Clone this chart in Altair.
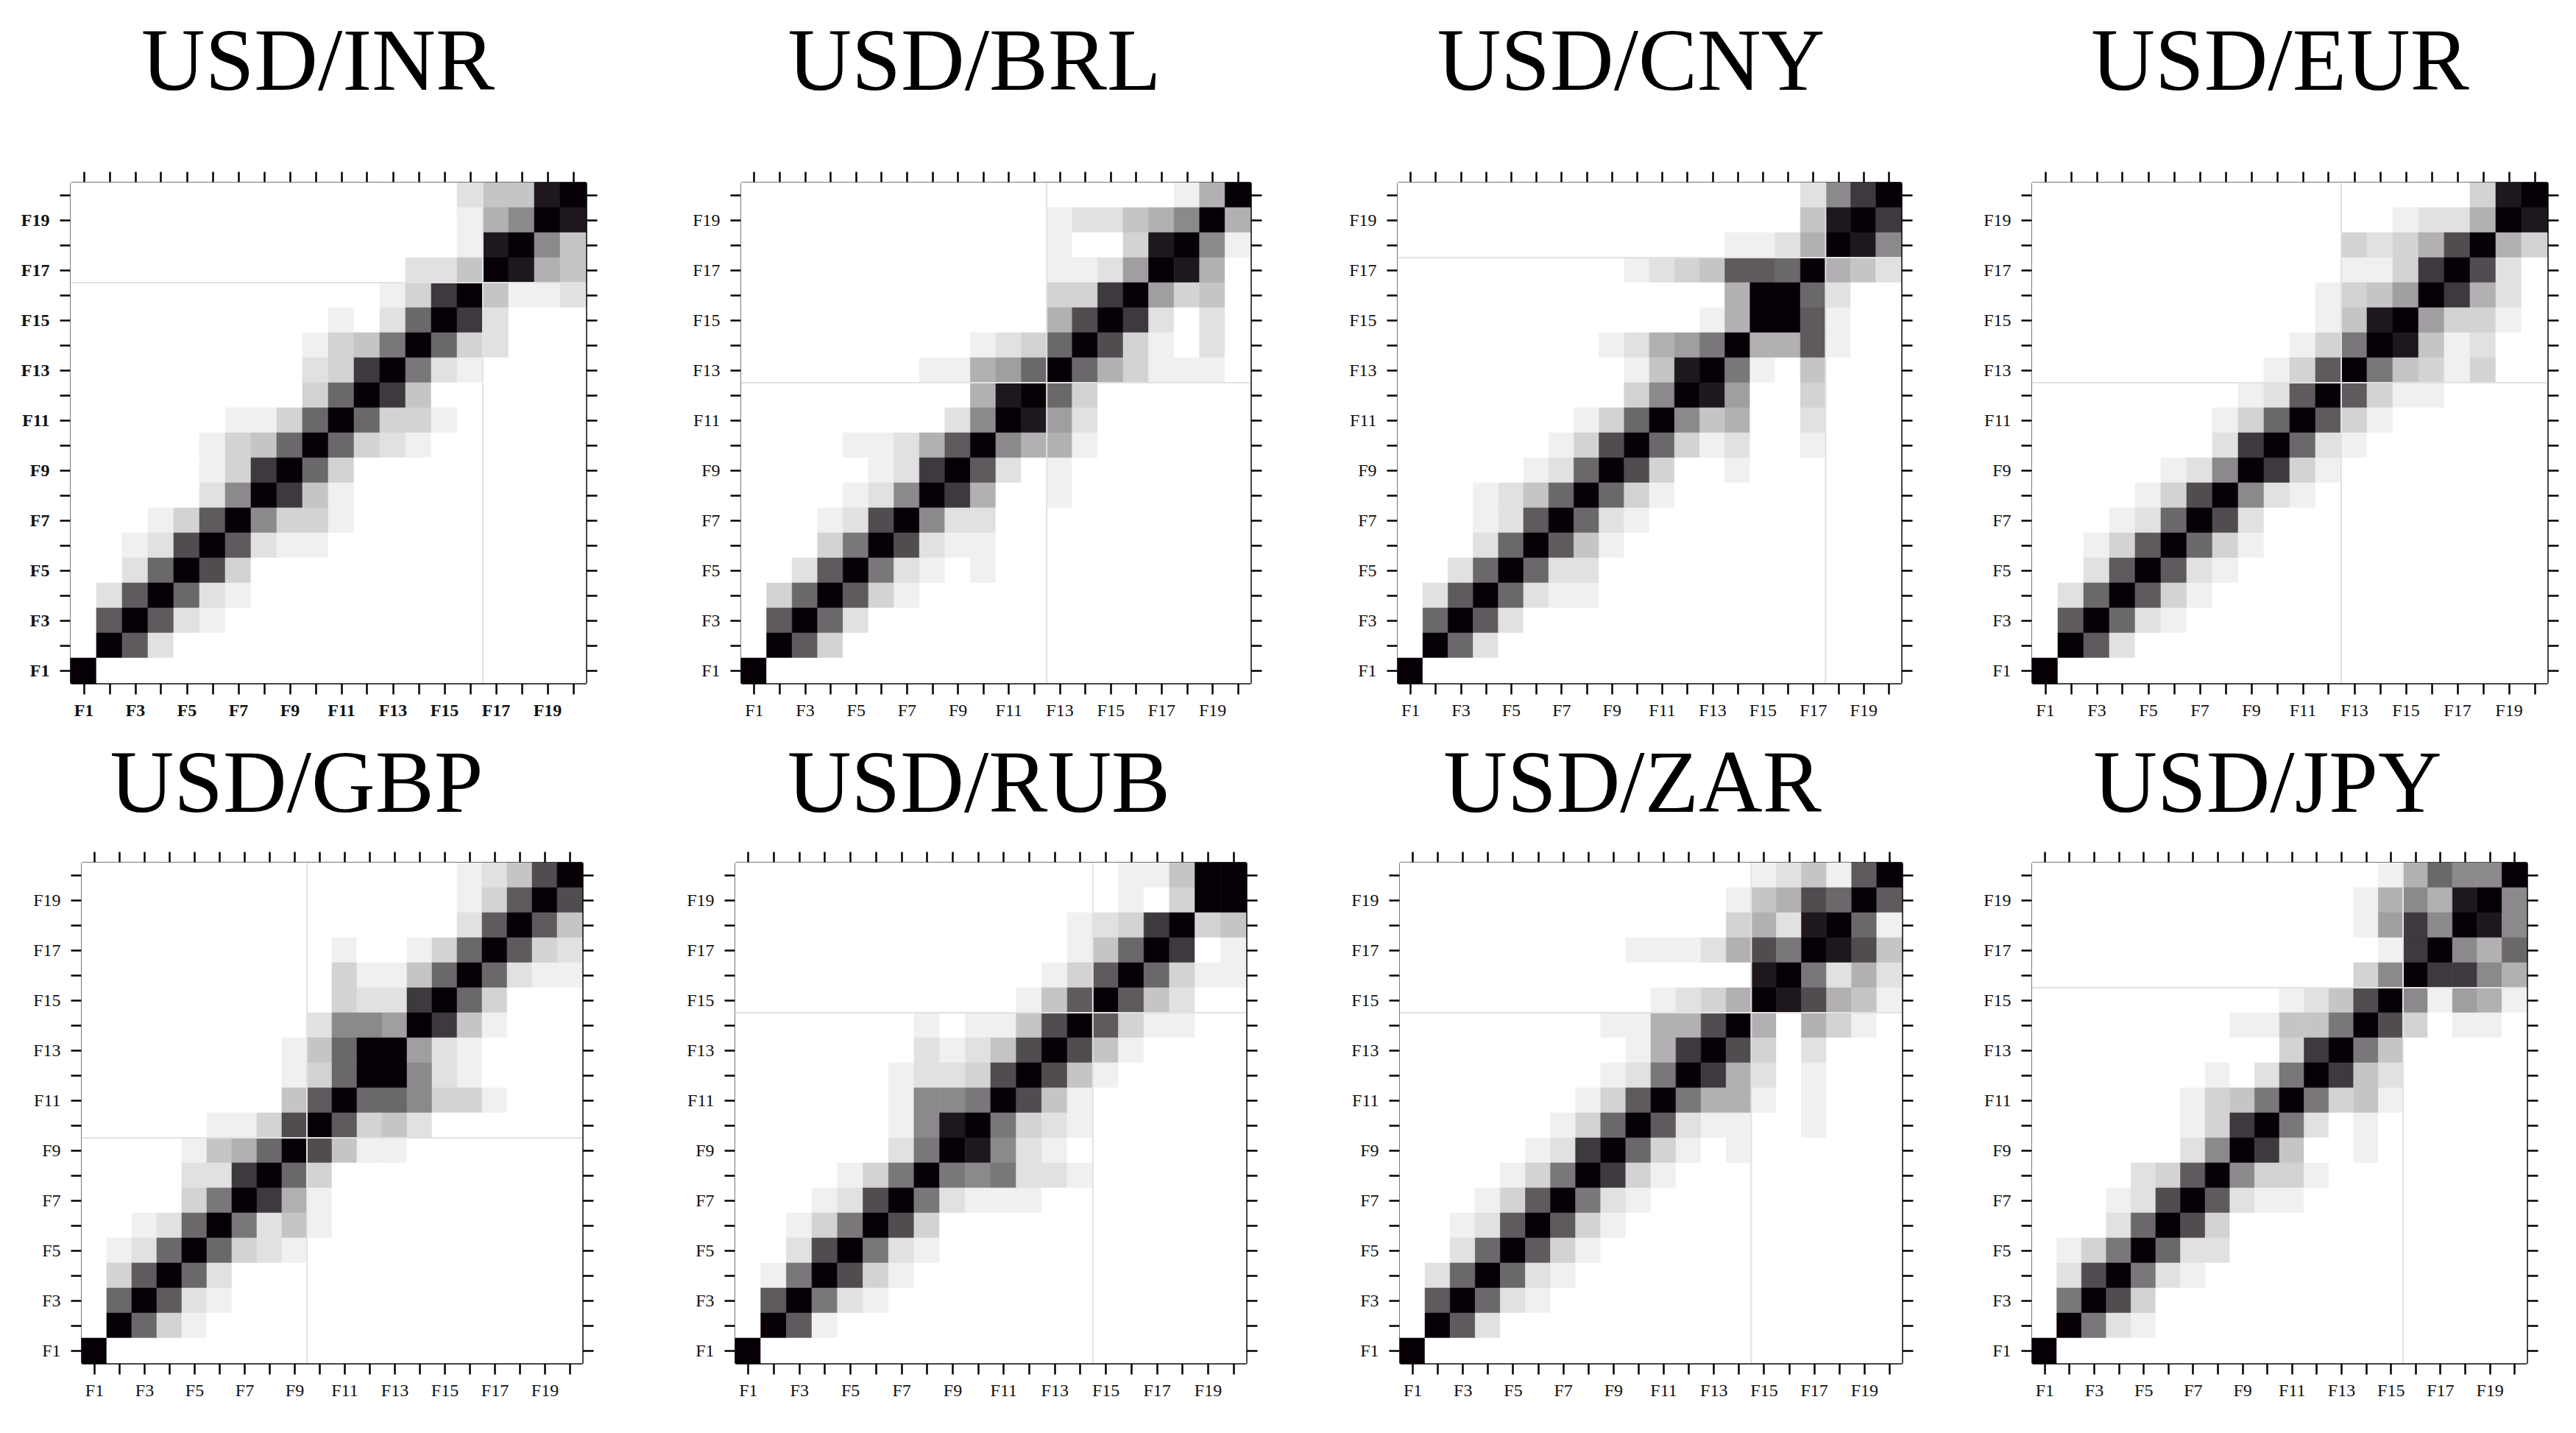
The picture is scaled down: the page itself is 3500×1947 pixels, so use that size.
import altair as alt
import pandas as pd

# ---------------------------------------------------------------- data
PAIRS = ["USD/INR", "USD/BRL", "USD/CNY", "USD/EUR",
         "USD/GBP", "USD/RUB", "USD/ZAR", "USD/JPY"]
TICK_VALUES = list(range(1, 21))          # factors F1..F20

# grey level codes -> cell weight (0 = white, 1 = black)
LEVELS = {".": 0.0, "1": 0.06, "2": 0.116, "3": 0.173, "4": 0.229, "5": 0.31,
          "6": 0.382, "7": 0.462, "8": 0.534, "9": 0.594, "a": 0.647,
          "b": 0.703, "c": 0.775, "d": 0.904, "e": 1.0}

# each list: rows from F20 (top) down to F1 (bottom), columns F1..F20
INR_ROWS = [
    "...............244de",
    "...............157ed",
    "...............1de74",
    ".............224ed54",
    "............13ce4112",
    "..........1.29ec2...",
    ".........1348e932...",
    ".........23ce821....",
    ".........39ec4......",
    "......1139e9331.....",
    ".....1349e9321......",
    ".....13ce93.........",
    ".....27ec41.........",
    "...13ae7331.........",
    "..12bea211..........",
    "..29eb3.............",
    ".2ae921.............",
    ".aea21..............",
    ".ea2................",
    "e...................",
]
BRL_ROWS = [
    ".................15e",
    "............122457e5",
    "............1..3de71",
    "............1126ed5.",
    "............33ce634.",
    "............5bec2.2.",
    ".........1239eb31.2.",
    ".......11569e953111.",
    ".........5de93......",
    "........27ed62......",
    "....1125ae7551......",
    ".....12cea2.1.......",
    "....127ec5..1.......",
    "...12be722..........",
    "...38eb211..........",
    "..2ae821.1..........",
    ".39ea31.............",
    ".ae92...............",
    ".ea3................",
    "e...................",
]
CNY_ROWS = [
    "................27ce",
    "................4dec",
    ".............1125ed7",
    ".........1234aa9e542",
    ".............5ee92..",
    "............15eea1..",
    "........12568e55a1..",
    ".........14de81.4...",
    ".........37ed6..3...",
    ".......139e745..2...",
    "......13be9312..1...",
    ".....129eb3..1......",
    "...1249e931.........",
    "...12ae921..........",
    "...29ea41...........",
    "..29e922............",
    ".2ae9211............",
    ".9ea2...............",
    ".e92................",
    "e...................",
]
EUR_ROWS = [
    ".................3de",
    "..............1225ed",
    "............3235be53",
    "............113ceb2.",
    "...........1346ec52.",
    "...........14de6331.",
    "..........138ed412..",
    ".........13ae84313..",
    "........12aea311....",
    ".......139ea31......",
    ".......2ce921.......",
    ".....127ec31........",
    "....13be721.........",
    "...129eb2...........",
    "..13ae931...........",
    "..2aea21............",
    ".29ea31.............",
    ".ae921..............",
    ".ea2................",
    "e...................",
]
GBP_ROWS = [
    "...............124be",
    "...............13aeb",
    "...............2aea4",
    "..........1..139ea32",
    "..........31149e9211",
    "..........322ce93...",
    ".........2776ec41...",
    "........149ee621....",
    "........139ee721....",
    "........4ae997331...",
    ".....113bea342......",
    "....1459eb411.......",
    "....22ce93..........",
    "....38ec51..........",
    "..129e8241..........",
    ".129e9321...........",
    ".3ae92..............",
    ".9ea21..............",
    ".e931...............",
    "e...................",
]
RUB_ROWS = [
    "...............114ee",
    "...............1.3ee",
    ".............123ce34",
    ".............149ec.1",
    "............13ae9311",
    "...........14aea42..",
    ".......1.114bea311..",
    ".......2124beb41....",
    "......1223beb41.....",
    "......1778eb41......",
    "......17de8321......",
    "......28ed721.......",
    "....138e878221......",
    "...12be82111........",
    "..138eb3............",
    "..2be821............",
    ".18eb31.............",
    ".ae821..............",
    ".ea1................",
    "e...................",
]
ZAR_ROWS = [
    "..............1241ae",
    ".............145b9ea",
    ".............352de91",
    ".........11125b8edb4",
    "..............de8252",
    "..........1235edb541",
    "........1155be5.531.",
    ".........15ceb3.2...",
    "........128ec52.1...",
    ".......13ae8551.1...",
    "......139ea211..1...",
    ".....12ce931.1......",
    "....138ec31.........",
    "...13ae821..........",
    "..12aea31...........",
    "..29ea31............",
    ".29e921.............",
    ".ae921..............",
    ".ea2................",
    "e...................",
]
JPY_ROWS = [
    "..............15977e",
    ".............1575de7",
    ".............16c7ed7",
    "..............1ce759",
    ".............37ecc75",
    "..........124be71651",
    "........11448eb3.11.",
    "..........3ce84.....",
    ".......1.28ec42.....",
    "......1348e8341.....",
    "......13ce82.1......",
    "......27ec4..1......",
    "....23ae7331........",
    "...12bea211.........",
    "...29eb3............",
    ".138e922............",
    ".2be821.............",
    ".8eb3...............",
    ".e821...............",
    "e...................",
]
MATRICES = [INR_ROWS, BRL_ROWS, CNY_ROWS, EUR_ROWS,
            GBP_ROWS, RUB_ROWS, ZAR_ROWS, JPY_ROWS]
# position of the light crosshair (between two factors)
CROSS = [16.5, 12.5, 17.5, 12.5, 9.5, 14.5, 14.5, 15.5]

# ---------------------------------------------------------------- layout
WIDTHS = [700, 692, 684, 700, 680, 694, 682, 672]
HEIGHT = 680
GAPS_ROW1 = [14, 122, 111, 89]
GAPS_ROW2 = [31, 119, 120, 88]
TITLE_OFFSETS = [-10, -67]
TITLE_DX = [-14, -29, -25, -13, -48, -16, -25, -16]
SERIF = "Liberation Serif"
LABEL_EXPR = "datum.value % 2 == 1 ? 'F' + datum.value : ''"
COLOR_SCALE = alt.Scale(domain=[0, 1], range=["#ffffff", "#060006"],
                        interpolate="rgb")


def panel(idx):
    name = PAIRS[idx]
    rows = MATRICES[idx]
    recs = []
    for i, s in enumerate(rows):
        s = (s + "." * 20)[:20]
        r = 20 - i
        for j, ch in enumerate(s):
            c = j + 1
            recs.append({"x0": c - 0.5, "x1": c + 0.5,
                         "y0": r - 0.5, "y1": r + 0.5,
                         "v": LEVELS.get(ch, 0.0)})
    df = pd.DataFrame(recs)
    sc = alt.Scale(domain=[0.5, 20.5], nice=False, zero=False)
    bold = "bold" if idx == 0 else "normal"
    common = dict(values=TICK_VALUES, title=None, grid=False,
                  domainColor="#000000", domainWidth=2.5,
                  tickColor="#000000", tickWidth=2.5, tickSize=15)
    lab = dict(labelExpr=LABEL_EXPR, labelFont=SERIF, labelFontSize=24,
               labelFontWeight=bold, labelColor="#111111",
               labelFlush=False, labelOverlap=False)
    ax_bottom = alt.Axis(orient="bottom", labelPadding=10, labelAngle=0,
                         **lab, **common)
    ax_left = alt.Axis(orient="left", labelPadding=14, **lab, **common)
    ax_top = alt.Axis(orient="top", labels=False, **common)
    ax_right = alt.Axis(orient="right", labels=False, **common)

    heat = alt.Chart(df).mark_rect(strokeWidth=0.6).encode(
        x=alt.X("x0:Q", scale=sc, axis=ax_bottom), x2="x1",
        y=alt.Y("y0:Q", scale=sc, axis=ax_left), y2="y1",
        color=alt.Color("v:Q", scale=COLOR_SCALE, legend=None),
        stroke=alt.Stroke("v:Q", scale=COLOR_SCALE, legend=None),
    )
    cdf = pd.DataFrame({"cp": [CROSS[idx]]})
    vline = alt.Chart(cdf).mark_rule(color="#e2e2e2", strokeWidth=2).encode(
        x=alt.X("cp:Q", scale=sc, axis=ax_top))
    hline = alt.Chart(cdf).mark_rule(color="#e2e2e2", strokeWidth=2).encode(
        y=alt.Y("cp:Q", scale=sc, axis=ax_right))
    return alt.layer(heat, vline, hline).resolve_axis(
        x="independent", y="independent").properties(
        width=WIDTHS[idx], height=HEIGHT,
        title=alt.TitleParams(text=name, font=SERIF, fontSize=120,
                              fontWeight="normal", color="#000000",
                              anchor="middle", baseline="alphabetic",
                              dx=TITLE_DX[idx],
                              offset=TITLE_OFFSETS[idx // 4]))


def spacer(w):
    return alt.Chart(pd.DataFrame({"a": [0]})).mark_point(opacity=0).encode(
        x=alt.value(0), y=alt.value(0)).properties(width=w, height=10)


row1 = alt.hconcat(spacer(GAPS_ROW1[0]), panel(0), spacer(GAPS_ROW1[1]), panel(1),
                   spacer(GAPS_ROW1[2]), panel(2), spacer(GAPS_ROW1[3]), panel(3),
                   spacing=0)
row2 = alt.hconcat(spacer(GAPS_ROW2[0]), panel(4), spacer(GAPS_ROW2[1]), panel(5),
                   spacer(GAPS_ROW2[2]), panel(6), spacer(GAPS_ROW2[3]), panel(7),
                   spacing=0)

chart = alt.vconcat(row1, row2, spacing=28).properties(
    padding={"left": 0, "top": 17, "right": 0, "bottom": 0},
    background="#ffffff",
).configure_view(stroke="transparent")

chart.save("out.html", embed_options={"renderer": "svg", "actions": False})
